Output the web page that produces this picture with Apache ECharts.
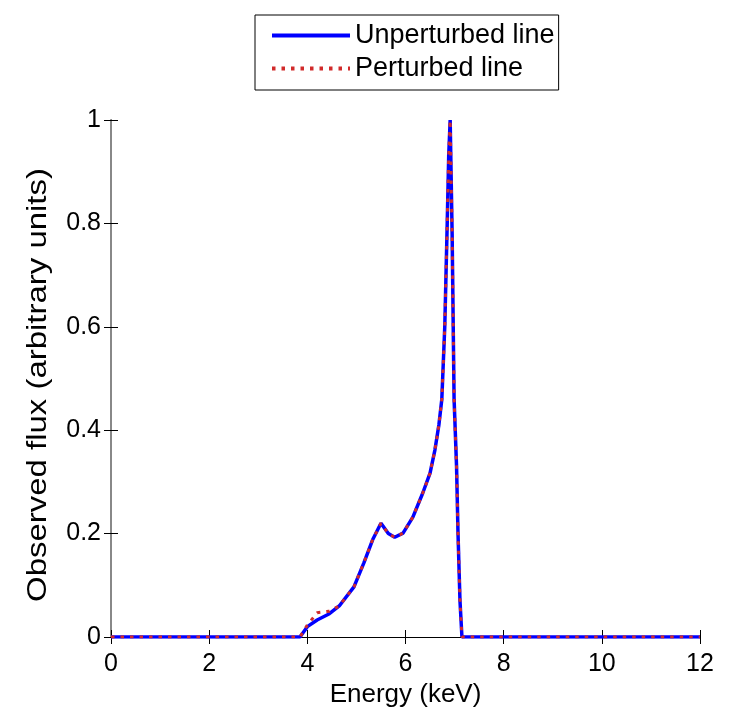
<!DOCTYPE html>
<html>
<head>
<meta charset="utf-8">
<script src="https://cdn.jsdelivr.net/npm/echarts@6/dist/echarts.min.js"></script>
<style>
html,body{margin:0;padding:0;background:#fff;}
#chart{width:731px;height:712px;}
</style>
</head>
<body>
<div id="chart"></div>
<script>
// Energy grid (keV)
var energy = [0, 3.85, 4.0, 4.2, 4.45, 4.65, 4.95, 5.15, 5.33, 5.5, 5.65, 5.78, 5.95, 6.15, 6.35, 6.5, 6.6, 6.68, 6.74, 6.8, 6.85, 6.88, 6.91, 6.95, 6.99, 7.04, 7.07, 7.11, 7.15, 12];
// Unperturbed line flux
var unperturbed = [0, 0, 0.02, 0.033, 0.045, 0.06, 0.097, 0.143, 0.188, 0.22, 0.2, 0.193, 0.201, 0.232, 0.278, 0.317, 0.362, 0.41, 0.46, 0.6, 0.8, 0.93, 1.0, 0.78, 0.46, 0.33, 0.2, 0.07, 0, 0];
// Perturbed line flux
var perturbed = [0, 0, 0.023, 0.047, 0.05, 0.06, 0.097, 0.143, 0.188, 0.22, 0.2, 0.193, 0.201, 0.232, 0.278, 0.317, 0.362, 0.41, 0.46, 0.6, 0.8, 0.93, 1.0, 0.78, 0.46, 0.33, 0.2, 0.07, 0, 0];
var seriesNames = ['Unperturbed line', 'Perturbed line'];
var xAxisName = 'Energy (keV)';
var yAxisName = 'Observed flux (arbitrary units)';

function pairs(xs, ys) { return xs.map(function (x, i) { return [x, ys[i]]; }); }

var font = 'Arial, "Liberation Sans", sans-serif';
var chart = echarts.init(document.getElementById('chart'));
var axisCommon = {
  type: 'value',
  axisLine: { show: true, lineStyle: { color: '#000', width: 1 } },
  axisTick: { show: true, inside: true, length: 7, lineStyle: { color: '#000' } },
  splitLine: { show: false }
};
chart.setOption({
  animation: false,
  backgroundColor: '#fff',
  grid: { left: 111, right: 31, top: 120, bottom: 75, containLabel: false, outerBoundsMode: 'none' },
  legend: {
    data: seriesNames,
    orient: 'vertical',
    left: 255, top: 15,
    itemWidth: 78, itemHeight: 28, itemGap: 6,
    padding: [7, 4, 8, 15],
    borderColor: '#000', borderWidth: 1,
    itemStyle: { opacity: 0 },
    lineStyle: { width: 4 },
    textStyle: { fontFamily: font, fontSize: 27, color: '#000' }
  },
  graphic: [{
    type: 'text',
    x: 39, y: 385,
    rotation: Math.PI / 2,
    scaleX: 1.22,
    style: {
      text: yAxisName,
      font: '27px Arial, "Liberation Sans", sans-serif',
      fill: '#000',
      align: 'center',
      verticalAlign: 'middle'
    }
  }],
  xAxis: [
    Object.assign({}, axisCommon, {
      min: 0, max: 12, interval: 2,
      name: xAxisName, nameLocation: 'middle', nameGap: 45,
      nameTextStyle: { fontFamily: font, fontSize: 26, color: '#000' },
      axisLabel: { fontFamily: font, fontSize: 25, color: '#000', margin: 15 }
    }),
    Object.assign({}, axisCommon, {
      position: 'top', min: 0, max: 12, interval: 2,
      axisLabel: { show: false }
    })
  ],
  yAxis: [
    Object.assign({}, axisCommon, {
      min: 0, max: 1, interval: 0.2,
      axisLabel: { fontFamily: font, fontSize: 25, color: '#000', margin: 10 }
    }),
    Object.assign({}, axisCommon, {
      position: 'right', min: 0, max: 1, interval: 0.2,
      axisLine: { show: true, lineStyle: { color: '#888', width: 2 } },
      axisLabel: { show: false }
    })
  ],
  series: [
    {
      name: seriesNames[0], type: 'line', symbol: 'none', smooth: false,
      data: pairs(energy, unperturbed),
      lineStyle: { color: '#0000ff', width: 3.5 },
      itemStyle: { color: '#0000ff' }
    },
    {
      name: seriesNames[1], type: 'line', symbol: 'none', smooth: false,
      data: pairs(energy, perturbed),
      lineStyle: { color: '#d12a2a', width: 3, type: [3.5, 6] },
      itemStyle: { color: '#d12a2a' }
    }
  ]
});
</script>
</body>
</html>
